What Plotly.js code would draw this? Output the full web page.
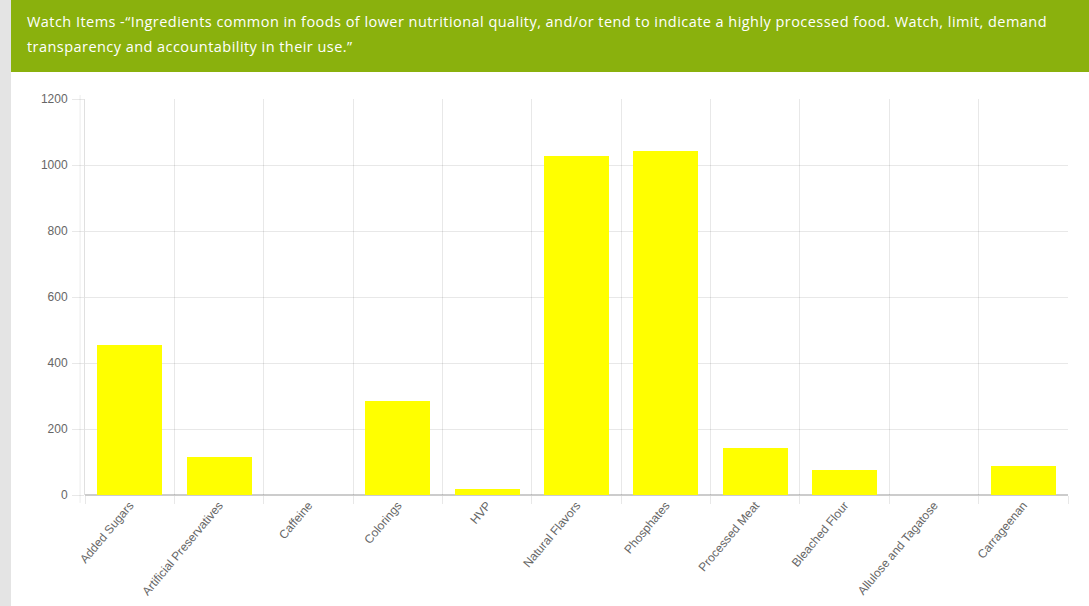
<!DOCTYPE html>
<html>
<head>
<meta charset="utf-8">
<script src="https://cdn.plot.ly/plotly-3.0.1.min.js"></script>
<style>
  html, body { margin: 0; padding: 0; width: 1089px; height: 606px; overflow: hidden; background: #ffffff; }
  #side { position: absolute; left: 0; top: 0; width: 11px; height: 606px; background: #e4e4e4; }
  #head {
    position: absolute; left: 11px; top: 0; width: 1078px; height: 72px;
    background: #8ab10d; color: #ffffff; box-sizing: border-box;
    padding: 9px 0 0 16px; font-family: "Open Sans", sans-serif; font-size: 14.5px;
    letter-spacing: 0.45px; line-height: 25px; white-space: nowrap;
  }
  #chart { position: absolute; left: 0; top: 0; width: 1089px; height: 606px; }
</style>
</head>
<body>
<div id="side"></div>
<div id="chart"></div>
<div id="head">Watch Items -“Ingredients common in foods of lower nutritional quality, and/or tend to indicate a highly processed food. Watch, limit, demand<br>transparency and accountability in their use.”</div>
<script>
// Ingredient categories and the number of products flagged for each
const categories = [
  "Added Sugars", "Artificial Preservatives", "Caffeine", "Colorings", "HVP",
  "Natural Flavors", "Phosphates", "Processed Meat", "Bleached Flour",
  "Allulose and Tagatose", "Carrageenan"
];
const counts = [454, 116, 0, 286, 19, 1028, 1043, 143, 75, 0, 87];
const yTicks = [0, 200, 400, 600, 800, 1000, 1200];

const idx = categories.map((_, i) => i);
const bounds = categories.concat([""]).map((_, i) => i - 0.5);

const gridColor = "rgba(0,0,0,0.09)";
const labelColor = "#666666";

const bars = {
  type: "bar",
  x: idx,
  y: counts,
  width: 0.727,
  marker: { color: "#ffff00", line: { width: 0 } },
  hoverinfo: "x+y"
};

// invisible trace that carries the category-boundary grid axis
const gridTrace = {
  type: "scatter", mode: "markers", x: [bounds[0], bounds[bounds.length - 1]], y: [0, 0],
  xaxis: "x2", marker: { opacity: 0 }, hoverinfo: "skip", showlegend: false
};

const layout = {
  width: 1089, height: 606,
  margin: { l: 85, r: 21, t: 99, b: 111 },
  paper_bgcolor: "rgba(0,0,0,0)",
  plot_bgcolor: "#ffffff",
  showlegend: false,
  font: { family: "Liberation Sans, Arial, sans-serif", size: 12, color: labelColor },
  xaxis: {
    range: [-0.5, categories.length - 0.5],
    tickvals: idx, ticktext: categories,
    tickangle: -50, ticks: "", showgrid: false, zeroline: false,
    showline: false, fixedrange: true,
    tickfont: { size: 12, color: labelColor }
  },
  xaxis2: {
    overlaying: "x", range: [-0.5, categories.length - 0.5],
    tickvals: bounds, showticklabels: false,
    showgrid: true, gridcolor: gridColor, gridwidth: 1,
    ticks: "outside", ticklen: 8, tickcolor: gridColor,
    zeroline: false, showline: false, side: "bottom", fixedrange: true
  },
  yaxis: {
    range: [0, 1200], tickvals: yTicks,
    showgrid: true, gridcolor: gridColor, gridwidth: 1,
    ticks: "outside", ticklen: 12, tickcolor: gridColor,
    ticklabelstandoff: 2,
    zeroline: true, zerolinecolor: "rgba(0,0,0,0.2)", zerolinewidth: 1.5,
    showline: true, linecolor: "rgba(0,0,0,0.12)", linewidth: 1,
    tickfont: { size: 12, color: labelColor }, fixedrange: true
  },
  shapes: [
    // second faint vertical rule just left of the value axis
    { type: "line", xref: "paper", yref: "paper", x0: -0.005, x1: -0.005, y0: -0.02, y1: 1.01,
      line: { color: "rgba(0,0,0,0.08)", width: 1 } }
  ],
  bargap: 0
};

Plotly.newPlot("chart", [bars, gridTrace], layout, { displayModeBar: false, staticPlot: true });
</script>
</body>
</html>
